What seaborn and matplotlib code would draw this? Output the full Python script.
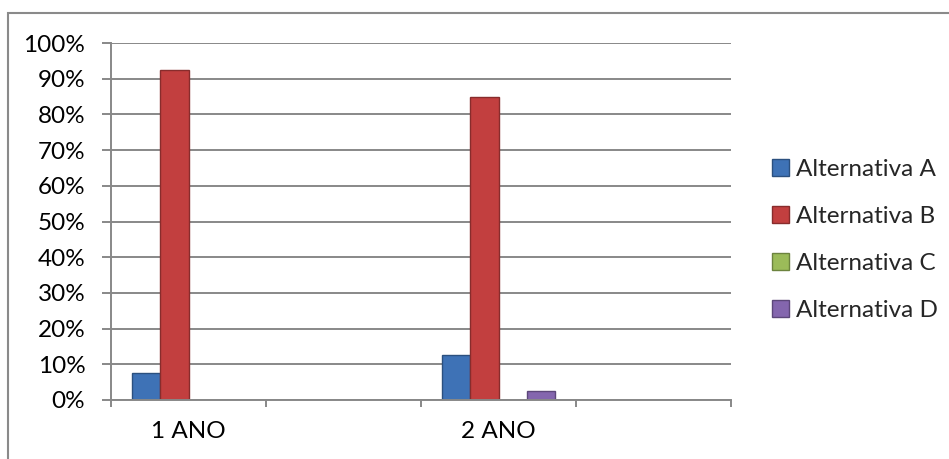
import matplotlib
matplotlib.use("Agg")
import matplotlib.pyplot as plt
import seaborn as sns
import pandas as pd
from matplotlib.patches import Rectangle
from matplotlib.ticker import FixedLocator, PercentFormatter
from matplotlib.colors import to_rgb

# ---- data ----
categories = ["1 ANO", " ", "2 ANO", "  "]
tick_labels = ["1 ANO", "", "2 ANO", ""]
series = ["Alternativa A", "Alternativa B", "Alternativa C", "Alternativa D"]
alt_a = [0.075, 0.0, 0.125, 0.0]
alt_b = [0.925, 0.0, 0.85, 0.0]
alt_c = [0.0, 0.0, 0.0, 0.0]
alt_d = [0.0, 0.0, 0.025, 0.0]
colors = ["#3E72B6", "#C23F3F", "#9BBB59", "#8466AE"]

rows = []
for s, vals in zip(series, [alt_a, alt_b, alt_c, alt_d]):
    for c, v in zip(categories, vals):
        rows.append({"cat": c, "serie": s, "val": v})
df = pd.DataFrame(rows)

sns.set_theme(style="white")
plt.rcParams["font.family"] = ["Lato", "DejaVu Sans"]
FS = 17.5

W, H = 949, 459
fig = plt.figure(figsize=(W / 100, H / 100), dpi=100)
ax = fig.add_axes([111 / W, 1 - 400 / H, 620 / W, 357 / H])

sns.barplot(data=df, x="cat", y="val", hue="serie", order=categories,
            hue_order=series, palette=colors, width=0.73, ax=ax,
            saturation=1, linewidth=0, errorbar=None, legend=True)

# darker rim on visible bars (imitating the bevelled look)
for p in ax.patches:
    if p.get_height() > 0:
        r, g, b = to_rgb(p.get_facecolor())
        p.set_edgecolor((r * 0.7, g * 0.7, b * 0.7))
        p.set_linewidth(1.0)

grid_c = "#888888"
ax.set_xlim(-0.5, 3.5)
ax.set_ylim(0, 1)
ax.yaxis.set_major_locator(FixedLocator([i / 10 for i in range(11)]))
ax.yaxis.set_major_formatter(PercentFormatter(1.0, decimals=0))
ax.grid(axis="y", color=grid_c, linewidth=1.4)
ax.set_axisbelow(True)
for sp in ["top", "right"]:
    ax.spines[sp].set_visible(False)
for sp in ["left", "bottom"]:
    ax.spines[sp].set_color(grid_c)
    ax.spines[sp].set_linewidth(1.4)

ax.set_xticks(range(len(categories)))
ax.set_xticklabels(tick_labels)
ax.set_xticks([-0.5, 0.5, 1.5, 2.5, 3.5], minor=True)
ax.tick_params(axis="x", which="major", length=0, pad=15, labelsize=FS, labelcolor="black")
ax.tick_params(axis="x", which="minor", length=5, width=1.4, color=grid_c, bottom=True)
ax.tick_params(axis="y", which="major", length=6.5, width=1.4, color=grid_c, left=True,
               pad=12, labelsize=FS, labelcolor="black")
ax.set_xlabel("")
ax.set_ylabel("")

handles, labels = ax.get_legend_handles_labels()
leg = ax.legend(handles, labels, loc="center left", bbox_to_anchor=(772 / W, 1 - 240 / H),
                bbox_transform=fig.transFigure, frameon=False, fontsize=FS,
                handlelength=0.7, handleheight=0.7, handletextpad=0.3,
                labelspacing=1.08, borderaxespad=0, borderpad=0)
for h in leg.legend_handles:
    r, g, b = to_rgb(h.get_facecolor())
    h.set_edgecolor((r * 0.7, g * 0.7, b * 0.7))
    h.set_linewidth(1.0)

# outer chart border (only top and left edges visible)
fig.patches.append(Rectangle((8 / W, -0.5), 2.0, 1.5 - 13 / H, transform=fig.transFigure,
                             fill=False, edgecolor="#8a8a8a", linewidth=1.5))

fig.savefig("out.png", dpi=100)
